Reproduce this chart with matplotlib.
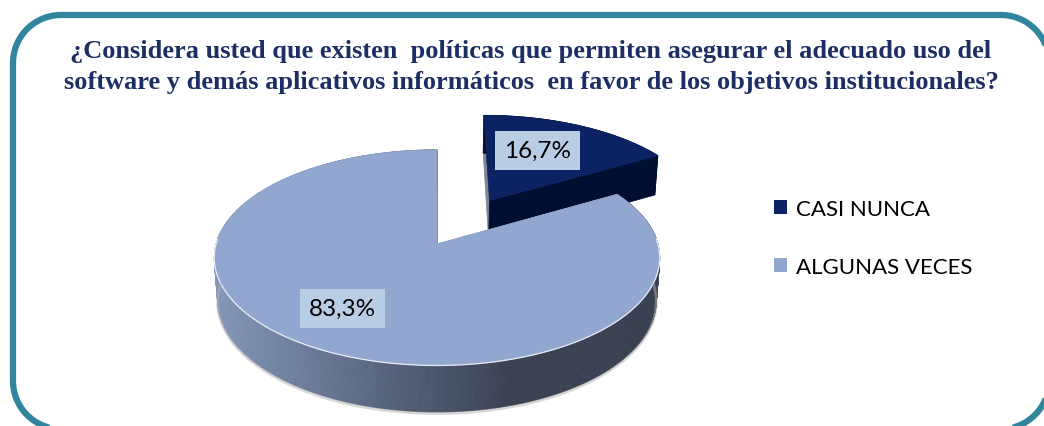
import numpy as np
import matplotlib
matplotlib.use('Agg')
import matplotlib.pyplot as plt
from matplotlib.patches import Polygon, Patch
from matplotlib.collections import PolyCollection
from matplotlib.colors import LinearSegmentedColormap, to_rgba

# survey answers
categories = ['CASI NUNCA', 'ALGUNAS VECES']
shares = [16.7, 83.3]
value_labels = ['16,7%', '83,3%']
explode = [0.5, 0.0]

title = ('¿Considera usted que existen  políticas que permiten asegurar el adecuado uso del\n'
         'software y demás aplicativos informáticos  en favor de los objetivos institucionales?')

top_colors = ['#0b2363', '#92a7cf']
cut_colors = ['#000f31', '#7f8594']
rim_cmap = LinearSegmentedColormap.from_list('rim', ['#8397b8', '#5d6a85', '#3a4152', '#3a4152'])

# where the value boxes sit inside each wedge
label_radius = [0.62, 0.69]
label_turn = [5, -5]

# camera for the tilted 3d disc (pixel units)
CX, CY = 437, 245
FOCAL = 1529.0
DIST = 6.92
TILT = np.radians(28.7)
THICK = 0.223


def project(x, y, z):
    depth = DIST + y * np.cos(TILT) - z * np.sin(TILT)
    sx = CX + FOCAL * x / depth
    sy = CY - FOCAL * (y * np.sin(TILT) + z * np.cos(TILT)) / depth
    return np.column_stack([sx, sy])


def rounded_rect(x0, y0, x1, y1, r, n=30):
    pts = []
    for cx, cy, a in [(x1 - r, y0 + r, -90), (x1 - r, y1 - r, 0),
                      (x0 + r, y1 - r, 90), (x0 + r, y0 + r, 180)]:
        t = np.radians(np.linspace(a, a + 90, n))
        pts.append(np.column_stack([cx + r * np.cos(t), cy + r * np.sin(t)]))
    pts = np.vstack(pts)
    return np.vstack([pts, pts[:1]])


fig = plt.figure(figsize=(10.44, 4.27), dpi=100)
ax = fig.add_axes([0, 0, 1, 1])
ax.set_xlim(0, 1044)
ax.set_ylim(427, 0)
ax.axis('off')

total = sum(shares)
start = 90.0
wedges = []
for i, share in enumerate(shares):
    end = start - 360.0 * share / total
    wedges.append((start, end))
    start = end

for i in range(len(shares)):
    a0, a1 = wedges[i]
    mid = np.radians((a0 + a1) / 2)
    ox, oy = explode[i] * np.cos(mid), explode[i] * np.sin(mid)
    th = np.radians(np.linspace(a0, a1, int(abs(a1 - a0)) * 2 + 2))
    rx, ry = ox + np.cos(th), oy + np.sin(th)
    zeros = np.zeros_like(th)
    top = project(rx, ry, zeros)
    bot = project(rx, ry, zeros - THICK)
    ctop = project(np.array([ox]), np.array([oy]), np.array([0.0]))[0]
    cbot = project(np.array([ox]), np.array([oy]), np.array([-THICK]))[0]

    # cut faces at both ends of the wedge
    for k in (0, -1):
        face = [ctop, top[k], bot[k], cbot]
        color = cut_colors[0] if (i == 0 and k == -1) else cut_colors[1]
        ax.add_patch(Polygon(face, closed=True, fc=color, ec=color, lw=0.5))

    # outer rim, shaded left to right
    quads = [[top[j], top[j + 1], bot[j + 1], bot[j]] for j in range(len(th) - 1)]
    if i == 1:
        xs = (top[:-1, 0] - 215) / (660 - 215)
        cols = [rim_cmap(np.clip(v, 0, 1)) for v in xs]
    else:
        cols = [to_rgba(cut_colors[0])] * len(quads)
    ax.add_collection(PolyCollection(quads, facecolors=cols, edgecolors=cols, linewidths=0.6))

    # top surface
    ax.add_patch(Polygon(np.vstack([ctop, top]), closed=True, fc=top_colors[i], ec=top_colors[i], lw=0.5))

    # light bevel along the front rim and soft shadow under it
    front = np.sin(th) < 0.05
    if front.any():
        ax.plot(top[front, 0], top[front, 1], color='white', lw=0.9, alpha=0.8)
        ax.plot(bot[front, 0], bot[front, 1] + 1.5, color='#b0b0b0', lw=2, alpha=0.5)

    # value label
    la = mid + np.radians(label_turn[i])
    lx, ly = ox + label_radius[i] * np.cos(la), oy + label_radius[i] * np.sin(la)
    lp = project(np.array([lx]), np.array([ly]), np.array([0.0]))[0]
    ax.text(lp[0], lp[1], value_labels[i], ha='center', va='center', fontsize=17.5,
            family='Lato', color='black',
            bbox=dict(boxstyle='square,pad=0.36', fc='#b9cde5', ec='none'))

ax.text(531, 67, title, ha='center', va='center', fontsize=19, fontweight='bold',
        family='Liberation Serif', color='#1c2e63', linespacing=1.42)

handles = [Patch(fc=top_colors[i], ec='none') for i in range(len(categories))]
ax.legend(handles, categories, loc='upper left', bbox_to_anchor=(754, 180),
          bbox_transform=ax.transData, frameon=False, prop={'family': 'Lato', 'size': 16},
          handlelength=0.6, handleheight=0.6, handletextpad=0.4, labelspacing=1.7)

frame = rounded_rect(13, 16, 1049, 430, 48)
ax.plot(frame[:, 0], frame[:, 1], color='#31869e', lw=4.5, solid_capstyle='round', clip_on=False)

fig.savefig('out.png', dpi=100)
